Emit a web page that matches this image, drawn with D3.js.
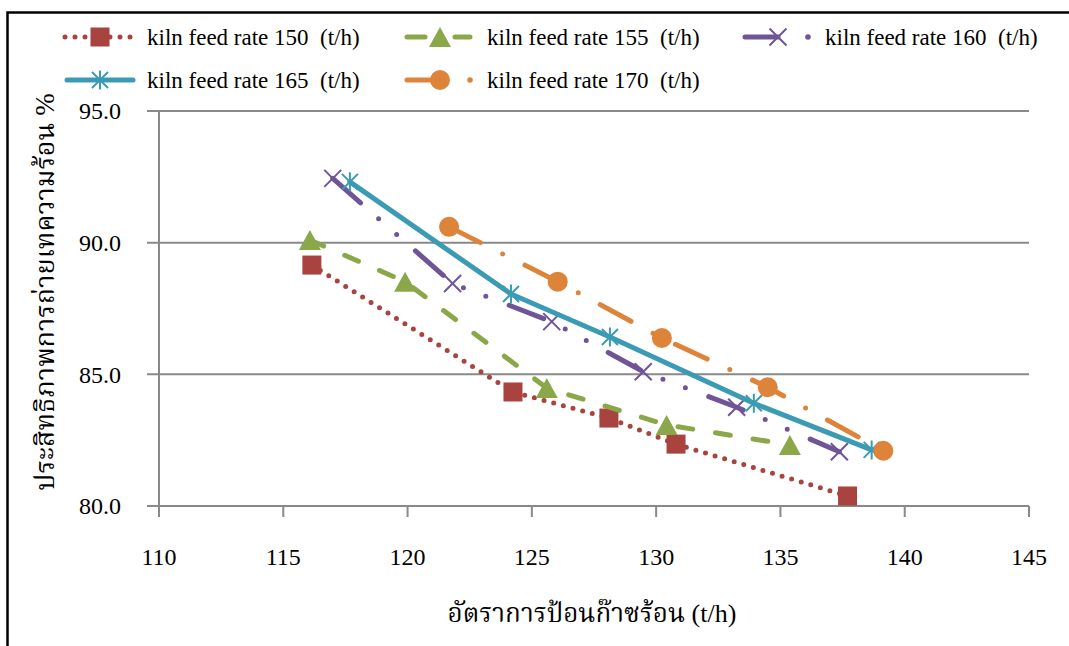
<!DOCTYPE html>
<html>
<head>
<meta charset="utf-8">
<script src="https://cdn.jsdelivr.net/npm/d3@7"></script>
<style>
	html, body { margin: 0; padding: 0; background: #fff; }
	svg { display: block; }
	svg text { fill: #000; font-family: "Liberation Serif", "Times New Roman", serif; }
	svg text.thai { font-family: "Liberation Serif", "Noto Serif Thai", "Noto Sans Thai", serif; }
</style>
</head>
<body>
<svg id="chart"></svg>
<script>
const WIDTH = 1069;
const HEIGHT = 646;

const X_TICKS = [110, 115, 120, 125, 130, 135, 140, 145];
const Y_TICKS = [80, 85, 90, 95];

const X_TITLE = "อัตราการป้อนก๊าซร้อน (t/h)";
const Y_TITLE = "ประสิทธิภาพการถ่ายเทความร้อน %";

const SERIES_NAMES = [
	"kiln feed rate 150  (t/h)",
	"kiln feed rate 155  (t/h)",
	"kiln feed rate 160  (t/h)",
	"kiln feed rate 165  (t/h)",
	"kiln feed rate 170  (t/h)",
];

// x = hot gas feed, y = efficiency
const FEED_150 = [116.15, 124.24, 128.1, 130.8, 137.7];
const EFF_150 = [89.15, 84.33, 83.34, 82.35, 80.38];

const FEED_155 = [116.07, 119.9, 125.6, 130.42, 135.38];
const EFF_155 = [90.1, 88.52, 84.48, 83.08, 82.32];

const FEED_160 = [116.99, 121.81, 125.8, 129.48, 133.24, 137.37];
const EFF_160 = [92.44, 88.45, 87.0, 85.1, 83.75, 82.06];

const FEED_165 = [117.68, 124.16, 128.14, 133.93, 138.67];
const EFF_165 = [92.31, 88.05, 86.42, 83.9, 82.13];

const FEED_170 = [121.67, 126.04, 130.23, 134.49, 139.14];
const EFF_170 = [90.6, 88.52, 86.38, 84.51, 82.1];

const svg = d3.select("#chart").attr("width", WIDTH).attr("height", HEIGHT);

const xScale = d3.scaleLinear([110, 145], [159, 1029]);
const yScale = d3.scaleLinear([80, 95], [506, 111]);

const GRID = "#898989";

// marker drawers, centred on 0,0
const markers = {
	square: (g, c) => g.append("rect").attr("x", -9.5).attr("y", -9.5)
		.attr("width", 19).attr("height", 19).attr("fill", c),
	triangle: (g, c) => g.append("path").attr("d", "M0,-10L11,10L-11,10Z").attr("fill", c),
	cross: (g, c) => g.append("path").attr("d", "M-8.5,-8.5L8.5,8.5M-8.5,8.5L8.5,-8.5")
		.attr("stroke", c).attr("stroke-width", 2).attr("fill", "none"),
	star: (g, c) => g.append("path").attr("d", "M0,-9.5V9.5M-8,-8L8,8M-8,8L8,-8")
		.attr("stroke", c).attr("stroke-width", 2).attr("fill", "none"),
	circle: (g, c) => g.append("circle").attr("r", 10).attr("fill", c),
};

const series = [
	{ name: SERIES_NAMES[0], xs: FEED_150, ys: EFF_150, color: "#a9433f", dash: "0 10", marker: "square" },
	{ name: SERIES_NAMES[1], xs: FEED_155, ys: EFF_155, color: "#8aa84a", dash: "15 23", marker: "triangle" },
	{ name: SERIES_NAMES[2], xs: FEED_160, ys: EFF_160, color: "#6f5596", dash: "37 24 0 24 0 25", marker: "cross" },
	{ name: SERIES_NAMES[3], xs: FEED_165, ys: EFF_165, color: "#3c9bb4", dash: null, marker: "star" },
	{ name: SERIES_NAMES[4], xs: FEED_170, ys: EFF_170, color: "#dd843a", dash: "35 25 0 25", marker: "circle" },
];

// outer frame (only left and top edges fall inside the picture)
svg.append("path")
	.attr("d", "M7.5,650V12.5H1080")
	.attr("fill", "none")
	.attr("stroke", "#000")
	.attr("stroke-width", 2.5);

// horizontal gridlines + y ticks
svg.append("g")
	.selectAll("line")
	.data(Y_TICKS)
	.join("line")
	.attr("x1", 147)
	.attr("x2", xScale(145))
	.attr("y1", d => yScale(d))
	.attr("y2", d => yScale(d))
	.attr("stroke", GRID)
	.attr("stroke-width", 2);

// y axis line
svg.append("line")
	.attr("x1", xScale(110)).attr("x2", xScale(110))
	.attr("y1", yScale(95)).attr("y2", yScale(80) + 11)
	.attr("stroke", GRID).attr("stroke-width", 2);

// x ticks
svg.append("g")
	.selectAll("line")
	.data(X_TICKS)
	.join("line")
	.attr("x1", d => xScale(d))
	.attr("x2", d => xScale(d))
	.attr("y1", yScale(80))
	.attr("y2", yScale(80) + 11)
	.attr("stroke", GRID)
	.attr("stroke-width", 2);

svg.append("g")
	.selectAll("text")
	.data(Y_TICKS)
	.join("text")
	.attr("x", 121)
	.attr("y", d => yScale(d))
	.attr("dy", "0.35em")
	.attr("text-anchor", "end")
	.style("font-size", "24px")
	.text(d => d.toFixed(1));

svg.append("g")
	.selectAll("text")
	.data(X_TICKS)
	.join("text")
	.attr("x", d => xScale(d))
	.attr("y", 557)
	.attr("dy", "0.35em")
	.attr("text-anchor", "middle")
	.style("font-size", "24px")
	.text(d => String(d));

svg.append("text")
	.attr("class", "thai")
	.attr("x", 592)
	.attr("y", 613)
	.attr("dy", "0.35em")
	.attr("text-anchor", "middle")
	.style("font-size", "26px")
	.text(X_TITLE);

svg.append("text")
	.attr("class", "thai")
	.attr("transform", "translate(45,292) rotate(-90)")
	.attr("dy", "0.35em")
	.attr("text-anchor", "middle")
	.style("font-size", "27px")
	.text(Y_TITLE);

// series
const line = d3.line();
const plot = svg.append("g");
for (const s of series) {
	const pts = s.xs.map((x, i) => [xScale(x), yScale(s.ys[i])]);
	plot.append("path")
		.attr("d", line(pts))
		.attr("fill", "none")
		.attr("stroke", s.color)
		.attr("stroke-width", 5)
		.attr("stroke-linecap", "round")
		.attr("stroke-linejoin", "round")
		.attr("stroke-dasharray", s.dash);
	for (const [px, py] of pts) {
		markers[s.marker](plot.append("g").attr("transform", `translate(${px},${py})`), s.color);
	}
}

// legend
const legendPos = [
	{ x: 100, y: 37 }, { x: 440, y: 37 }, { x: 778, y: 37 },
	{ x: 100, y: 80 }, { x: 440, y: 80 },
];
const legend = svg.append("g");
series.forEach((s, i) => {
	const { x, y } = legendPos[i];
	const g = legend.append("g").attr("transform", `translate(${x},${y})`);
	if (s.marker === "square") {
		g.append("path").attr("d", "M-35,0H-10M10,0H32")
			.attr("stroke", s.color).attr("stroke-width", 5)
			.attr("stroke-linecap", "round").attr("stroke-dasharray", "0 10");
	} else if (s.marker === "triangle") {
		g.append("path").attr("d", "M-33,0H-15M15,0H30")
			.attr("stroke", s.color).attr("stroke-width", 5).attr("stroke-linecap", "round");
	} else if (s.marker === "star") {
		g.append("path").attr("d", "M-33,0H33")
			.attr("stroke", s.color).attr("stroke-width", 5).attr("stroke-linecap", "round");
	} else {
		g.append("path").attr("d", "M-33,0H0")
			.attr("stroke", s.color).attr("stroke-width", 5).attr("stroke-linecap", "round");
		g.append("circle").attr("cx", 30).attr("r", 2.8).attr("fill", s.color);
	}
	markers[s.marker](g, s.color);
	g.append("text")
		.attr("x", 47)
		.attr("dy", "0.35em")
		.style("font-size", "23px")
		.style("white-space", "pre")
		.text(s.name);
});
</script>
</body>
</html>
